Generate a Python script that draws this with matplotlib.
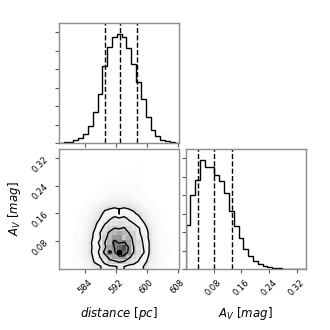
import numpy as np
import matplotlib
matplotlib.use("Agg")
import matplotlib.pyplot as plt
from matplotlib.colors import LinearSegmentedColormap
from matplotlib.ticker import MultipleLocator

# axis ranges, ticks and quantiles
dist_range = [577.3, 608.5]
av_range = [-0.001, 0.347]
dist_ticks = [584, 592, 600, 608]
av_ticks = [0.08, 0.16, 0.24, 0.32]
dist_quant = [589.2, 593.2, 597.5]
av_quant = [0.0355, 0.081, 0.1337]
hist_tick_step = 55

# 1D histograms (25 bins across the axis range)
dist_counts = [1, 2, 4, 10, 15, 28, 50, 92, 145, 230, 285, 315, 325,
               315, 282, 235, 182, 132, 77, 38, 20, 10, 5, 2, 1]
av_counts = [132, 220, 265, 325, 303, 303, 280, 263, 225, 172, 128, 92, 60,
             38, 25, 15, 10, 5, 3, 2, 1, 1, 0, 0, 0]

# 2D counts, rows = A_V bins (bottom -> top), cols = distance bins
joint_counts = [
    [0, 0, 1, 0, 1, 2, 3, 5, 7, 12, 13, 14, 16, 15, 12, 11, 10, 8, 5, 2, 1, 1, 0, 0, 0],
    [0, 0, 0, 1, 1, 2, 5, 9, 12, 17, 23, 24, 27, 25, 21, 19, 14, 12, 6, 3, 2, 1, 0, 0, 0],
    [0, 0, 0, 1, 2, 3, 6, 10, 15, 21, 30, 33, 34, 36, 28, 22, 18, 12, 8, 4, 2, 1, 0, 0, 0],
    [0, 0, 0, 1, 2, 4, 7, 11, 17, 29, 40, 35, 56, 44, 36, 26, 21, 16, 9, 4, 2, 1, 1, 0, 0],
    [0, 0, 0, 1, 2, 4, 6, 12, 15, 24, 34, 38, 43, 47, 37, 26, 19, 15, 9, 4, 2, 1, 1, 0, 0],
    [0, 0, 0, 1, 2, 3, 7, 11, 17, 26, 31, 41, 37, 39, 34, 24, 21, 14, 9, 4, 2, 1, 0, 0, 0],
    [0, 0, 0, 1, 1, 3, 6, 10, 14, 24, 29, 35, 36, 26, 31, 23, 17, 14, 8, 3, 2, 1, 1, 0, 0],
    [0, 0, 0, 1, 2, 3, 5, 10, 15, 21, 28, 29, 32, 30, 26, 23, 16, 13, 8, 4, 1, 1, 0, 0, 0],
    [0, 0, 0, 0, 1, 2, 5, 8, 11, 19, 22, 26, 25, 27, 22, 18, 16, 11, 7, 3, 2, 0, 0, 0, 0],
    [0, 0, 0, 1, 1, 2, 4, 7, 10, 14, 18, 19, 21, 19, 17, 15, 11, 9, 5, 2, 1, 1, 0, 0, 0],
    [0, 0, 0, 0, 1, 2, 3, 5, 8, 13, 14, 17, 16, 17, 14, 13, 10, 6, 4, 2, 1, 0, 0, 0, 0],
    [0, 0, 0, 0, 1, 1, 3, 4, 6, 10, 11, 12, 8, 12, 11, 9, 7, 5, 3, 1, 1, 0, 0, 0, 0],
    [0, 0, 0, 0, 0, 1, 2, 3, 5, 7, 8, 9, 8, 9, 8, 7, 5, 3, 2, 1, 0, 0, 0, 0, 0],
    [0, 0, 0, 0, 0, 1, 1, 2, 3, 4, 5, 5, 5, 5, 5, 4, 3, 2, 1, 1, 0, 0, 0, 0, 0],
    [0, 0, 0, 0, 0, 0, 0, 1, 1, 2, 3, 3, 3, 3, 3, 2, 2, 1, 1, 0, 0, 0, 0, 0, 0],
    [0, 0, 0, 0, 0, 0, 0, 0, 1, 1, 2, 2, 2, 2, 2, 1, 1, 1, 0, 0, 0, 0, 0, 0, 0],
    [0, 0, 0, 0, 0, 0, 0, 0, 0, 1, 1, 1, 1, 1, 1, 1, 1, 0, 0, 0, 0, 0, 0, 0, 0],
    [0, 0, 0, 0, 0, 0, 0, 0, 0, 0, 1, 0, 1, 0, 1, 0, 1, 0, 0, 0, 0, 0, 0, 0, 0],
    [0, 0, 0, 0, 0, 0, 0, 0, 0, 0, 0, 1, 0, 0, 0, 1, 0, 0, 0, 0, 0, 0, 0, 0, 0],
    [0, 0, 0, 0, 0, 0, 0, 0, 0, 0, 0, 0, 0, 1, 0, 0, 0, 0, 0, 0, 0, 0, 0, 0, 0],
    [0, 0, 0, 0, 0, 0, 0, 0, 0, 0, 0, 0, 0, 0, 0, 1, 0, 0, 0, 0, 0, 0, 0, 0, 0],
    [0, 0, 0, 0, 0, 0, 0, 0, 0, 0, 0, 0, 0, 0, 0, 0, 1, 0, 0, 0, 0, 0, 0, 0, 0],
    [0] * 25,
    [0] * 25,
    [0] * 25,
]

dist_label = r"$distance$ [$pc$]"
av_label = r"$A_V$ [$mag$]"
sigmas = [0.5, 1.0, 1.5, 2.0]

frame_col = "0.55"
label_size = 8.5
tick_size = 6


def style_axis(ax):
    for s in ax.spines.values():
        s.set_color(frame_col)
        s.set_linewidth(1.0)
    ax.tick_params(length=3, width=0.8, color="0.35", labelsize=tick_size)


def diag_hist(ax, counts, rng, quants, ticks):
    edges = np.linspace(rng[0], rng[1], len(counts) + 1)
    ax.stairs(counts, edges, color="k", lw=1.0)
    for q in quants:
        ax.axvline(q, color="k", ls="--", lw=1.0)
    ax.set_xlim(rng)
    ax.set_ylim(0, 1.1 * max(counts))
    ax.set_xticks(ticks)
    ax.yaxis.set_major_locator(MultipleLocator(hist_tick_step))
    ax.set_yticklabels([])
    style_axis(ax)


fig, axes = plt.subplots(2, 2, figsize=(3.3, 3.3), dpi=100)
fig.subplots_adjust(left=59 / 330, right=306 / 330, bottom=61 / 330,
                    top=307 / 330, wspace=0.05, hspace=0.05)

# top: distance histogram
ax = axes[0, 0]
diag_hist(ax, dist_counts, dist_range, dist_quant, dist_ticks)
ax.set_xticklabels([])

axes[0, 1].set_axis_off()

# bottom right: A_V histogram
ax = axes[1, 1]
diag_hist(ax, av_counts, av_range, av_quant, av_ticks)
for lab in ax.get_xticklabels():
    lab.set_rotation(45)
ax.set_xlabel(av_label, fontsize=label_size)
ax.xaxis.set_label_coords(0.5, -0.3)

# bottom left: 2D histogram with contours
ax = axes[1, 0]
Z = np.array(joint_counts, dtype=float)
xe = np.linspace(dist_range[0], dist_range[1], Z.shape[1] + 1)
ye = np.linspace(av_range[0], av_range[1], Z.shape[0] + 1)

# faint smooth cloud standing in for the scattered samples
ax.imshow(Z, origin="lower", extent=[*dist_range, *av_range], aspect="auto",
          cmap="Greys", vmin=0, vmax=14, alpha=0.3, interpolation="bilinear")

levels = 1.0 - np.exp(-0.5 * np.array(sigmas) ** 2)
flat = np.sort(Z.flatten())[::-1]
cum = np.cumsum(flat)
cum /= cum[-1]
V = np.array([flat[cum <= lv][-1] for lv in levels])
V.sort()

xc = 0.5 * (xe[1:] + xe[:-1])
yc = 0.5 * (ye[1:] + ye[:-1])
dx = xc[1] - xc[0]
dy = yc[1] - yc[0]
Z2 = np.pad(np.pad(Z, 1, mode="edge"), 1, mode="constant", constant_values=Z.min())
X2 = np.concatenate([xc[0] - np.array([2, 1]) * dx, xc, xc[-1] + np.array([1, 2]) * dx])
Y2 = np.concatenate([yc[0] - np.array([2, 1]) * dy, yc, yc[-1] + np.array([1, 2]) * dy])

ax.contourf(X2, Y2, Z2, [V.min(), Z.max()], colors="white", antialiased=False)
dens_cmap = LinearSegmentedColormap.from_list("dens", ["k", (1, 1, 1, 0)])
ax.pcolormesh(xe, ye, Z.max() - Z, cmap=dens_cmap)
ax.contour(X2, Y2, Z2, V, colors="k", linewidths=1.0)

ax.set_xlim(dist_range)
ax.set_ylim(av_range)
ax.set_xticks(dist_ticks)
ax.set_yticks(av_ticks)
ax.set_yticklabels(["%.2f" % t for t in av_ticks])
for lab in ax.get_xticklabels():
    lab.set_rotation(45)
for lab in ax.get_yticklabels():
    lab.set_rotation(45)
style_axis(ax)
ax.set_xlabel(dist_label, fontsize=label_size)
ax.set_ylabel(av_label, fontsize=label_size)
ax.xaxis.set_label_coords(0.5, -0.3)
ax.yaxis.set_label_coords(-0.3, 0.5)

fig.savefig("out.png", dpi=100)
